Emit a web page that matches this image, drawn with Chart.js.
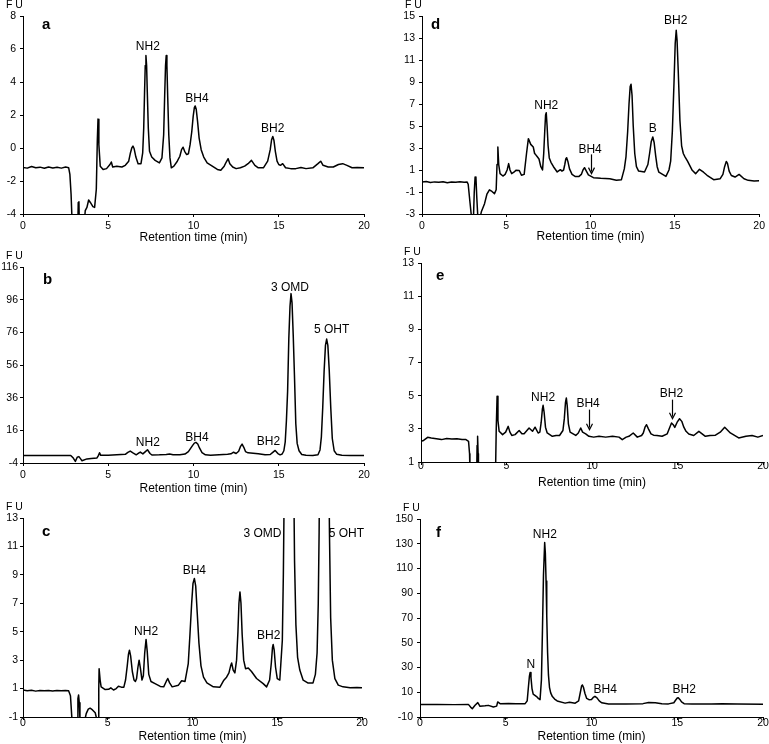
<!DOCTYPE html>
<html lang="en">
<head>
<meta charset="UTF-8">
<title>Chromatograms a-f</title>
<script src="https://cdn.jsdelivr.net/npm/chart.js"></script>
<style>
  body { margin: 0; background: #fff; }
  #wrap { position: relative; width: 769px; height: 744px; overflow: hidden; }
  canvas { position: absolute; }
</style>
</head>
<body>
<div id="wrap">
  <canvas id="chartA" width="384" height="245" style="left:0;top:0"></canvas>
  <canvas id="chartB" width="384" height="251" style="left:0;top:245px"></canvas>
  <canvas id="chartC" width="384" height="248" style="left:0;top:496px"></canvas>
  <canvas id="chartD" width="385" height="244" style="left:384px;top:0"></canvas>
  <canvas id="chartE" width="385" height="246" style="left:384px;top:244px"></canvas>
  <canvas id="chartF" width="385" height="254" style="left:384px;top:490px"></canvas>
</div>

<script>
const FONT = "'Liberation Sans', Arial, sans-serif";

// x axis is the same everywhere
const xTicks = [0, 5, 10, 15, 20];

// ---- panel a ----
const aTime = [0, 0.25, 0.5, 0.75, 1.0, 1.25, 1.5, 1.75, 2.0, 2.25,
  2.5, 2.68, 2.75, 2.82, 2.88, 3.22, 3.24, 3.28, 3.3, 3.6,
  3.65, 3.75, 3.85, 3.95, 4.1, 4.2, 4.3, 4.36, 4.4, 4.45,
  4.53, 4.7, 4.9, 5.1, 5.18, 5.26, 5.5, 5.8, 6.0, 6.2,
  6.3, 6.38, 6.45, 6.52, 6.62, 6.75, 6.92, 7.02, 7.08, 7.13,
  7.17, 7.21, 7.25, 7.29, 7.35, 7.42, 7.55, 7.75, 8.0, 8.15,
  8.25, 8.31, 8.36, 8.4, 8.44, 8.49, 8.55, 8.62, 8.7, 8.85,
  9.05, 9.2, 9.3, 9.39, 9.48, 9.6, 9.7, 9.8, 9.9, 9.98,
  10.05, 10.1, 10.16, 10.24, 10.33, 10.45, 10.6, 10.8, 11.1, 11.4,
  11.6, 11.8, 11.92, 12.03, 12.13, 12.3, 12.5, 12.75, 13.0, 13.2,
  13.4, 13.6, 13.8, 14.1, 14.35, 14.5, 14.58, 14.65, 14.72, 14.8,
  14.9, 15.0, 15.1, 15.23, 15.4, 15.7, 16.0, 16.3, 16.6, 17.0,
  17.3, 17.46, 17.6, 17.9, 18.2, 18.5, 18.75, 19.0, 19.3, 19.6,
  20];
const aFU = [-1.18, -1.22, -1.12, -1.2, -1.16, -1.23, -1.15, -1.21, -1.17, -1.22,
  -1.15, -1.2, -1.6, -2.8, -4.5, -4.5, -3.3, -3.25, -4.5, -4.5,
  -3.8, -3.6, -3.15, -3.3, -3.55, -3.6, -2.5, 0.5, 1.75, 0.2,
  -1.1, -1.3, -1.25, -1.0, -0.85, -1.15, -1.1, -1.15, -1.05, -0.8,
  -0.3, 0.0, 0.12, -0.05, -0.55, -0.95, -0.95, -0.3, 1.2, 3.4,
  5.0, 5.6, 5.0, 3.4, 1.2, -0.2, -0.55, -0.75, -0.9, -0.6,
  0.8, 3.2, 5.0, 5.6, 5.0, 3.0, 0.8, -0.6, -1.2, -1.1,
  -0.8, -0.5, -0.1, 0.05, -0.2, -0.4, -0.35, 0.2, 1.0, 1.9,
  2.45, 2.55, 2.35, 1.6, 0.6, -0.1, -0.55, -0.9, -1.1, -1.3,
  -1.35, -1.1, -0.85, -0.65, -0.95, -1.15, -1.25, -1.2, -1.1, -0.95,
  -0.75, -1.05, -1.2, -1.2, -0.8, -0.1, 0.5, 0.7, 0.45, -0.2,
  -0.8, -1.0, -1.05, -0.95, -1.2, -1.25, -1.25, -1.18, -1.25, -1.2,
  -0.95, -0.8, -1.05, -1.15, -1.15, -1.0, -0.95, -1.05, -1.2, -1.18,
  -1.2];
const aTicks = [-4, -2, 0, 2, 4, 6, 8];
const aNames = ['NH2', 'BH4', 'BH2'];
const aNameX = [7.32, 10.2, 14.65];
const aNameY = [6.12, 2.99, 1.17];

// ---- panel b ----
const bTime = [0, 0.5, 1, 1.5, 2, 2.5, 2.8, 2.95, 3.07, 3.18,
  3.28, 3.38, 3.46, 3.75, 4.0, 4.34, 4.42, 4.49, 4.56, 5.0,
  5.5, 6.0, 6.15, 6.29, 6.45, 6.64, 6.78, 6.88, 7.03, 7.18,
  7.3, 7.45, 7.56, 8.0, 8.4, 8.6, 8.8, 9.2, 9.5, 9.7,
  9.82, 9.95, 10.05, 10.14, 10.25, 10.35, 10.5, 10.7, 11.0, 11.5,
  12.0, 12.2, 12.35, 12.5, 12.65, 12.75, 12.85, 12.95, 13.05, 13.2,
  13.5, 13.8, 14.2, 14.5, 14.65, 14.79, 14.95, 15.08, 15.2, 15.3,
  15.38, 15.45, 15.52, 15.59, 15.66, 15.72, 15.78, 15.85, 15.92, 16.0,
  16.08, 16.19, 16.35, 16.6, 17.0, 17.3, 17.42, 17.5, 17.58, 17.66,
  17.74, 17.81, 17.88, 17.96, 18.05, 18.14, 18.25, 18.4, 18.7, 19.2,
  20];
const bFU = [0.6, 0.6, 0.6, 0.6, 0.6, 0.6, 0.6, -1, -3, -0.5,
  -0.1, -1.5, -2.6, -1.5, -1.2, -0.9, 0.5, 2.3, 0.7, 0.8,
  1.0, 1.3, 2.5, 3.3, 2.2, 1.0, 2.0, 2.7, 1.6, 3.0,
  4.1, 1.8, 0.9, 1.0, 1.2, 1.5, 1.1, 1.0, 1.5, 3.0,
  4.8, 6.8, 8.2, 8.6, 7.6, 5.2, 2.4, 1.0, 0.8, 1.0,
  1.3, 1.6, 2.6, 1.8, 3.2, 6.0, 7.6, 5.6, 3.0, 2.2,
  2.0, 1.7, 1.0, 1.2, 2.5, 3.7, 1.8, 1.0, 1.5, 3.5,
  9, 22, 40, 72, 92, 99.7, 94, 74, 50, 20,
  8, 3.5, 1.2, 0.7, 0.6, 1.0, 4, 12, 30, 52,
  68, 71.9, 68, 53, 30, 11, 3.5, 1.3, 0.7, 0.6,
  0.6];
const bTicks = [-4, 16, 36, 56, 76, 96, 116];
const bNames = ['NH2', 'BH4', 'BH2', '3 OMD', '5 OHT'];
const bNameX = [7.32, 10.2, 14.4, 15.66, 18.1];
const bNameY = [8.2, 11.7, 8.8, 103.4, 77.4];

// ---- panel c ----
const cTime = [0, 0.25, 0.5, 0.75, 1.0, 1.25, 1.5, 1.75, 2.0, 2.25,
  2.5, 2.69, 2.8, 2.89, 3.2, 3.24, 3.28, 3.32, 3.36, 3.65,
  3.73, 3.85, 3.96, 4.1, 4.26, 4.36, 4.44, 4.47, 4.49, 4.55,
  4.61, 4.85, 5.05, 5.18, 5.34, 5.5, 5.63, 5.8, 5.95, 6.05,
  6.15, 6.22, 6.28, 6.35, 6.45, 6.55, 6.63, 6.7, 6.78, 6.85,
  6.93, 7.02, 7.1, 7.18, 7.26, 7.33, 7.42, 7.55, 7.79, 8.1,
  8.3, 8.45, 8.54, 8.65, 8.8, 9.17, 9.36, 9.56, 9.75, 9.85,
  9.95, 10.03, 10.11, 10.19, 10.28, 10.38, 10.5, 10.65, 10.85, 11.23,
  11.62, 11.85, 12.01, 12.15, 12.25, 12.31, 12.4, 12.5, 12.6, 12.68,
  12.74, 12.8, 12.86, 12.93, 13.02, 13.13, 13.29, 13.48, 13.78, 14.17,
  14.37, 14.55, 14.65, 14.72, 14.76, 14.82, 14.9, 15.0, 15.15, 15.3,
  15.36, 15.42, 15.5, 15.6, 15.7, 15.8, 15.9, 15.97, 16.02, 16.1,
  16.2, 16.33, 16.53, 16.8, 17.11, 17.25, 17.35, 17.42, 17.47, 17.55,
  17.65, 17.8, 17.95, 18.02, 18.08, 18.15, 18.25, 18.4, 18.6, 18.88,
  19.3, 19.7, 20];
const cFU = [0.9, 0.85, 0.88, 0.82, 0.87, 0.84, 0.87, 0.83, 0.86, 0.84,
  0.87, 0.85, 0.5, -1.2, -1.2, 0.3, 0.55, 0.0, -1.2, -1.2,
  -0.76, -0.45, -0.38, -0.5, -0.7, -1.2, -1.2, 1.0, 2.4, 1.6,
  1.12, 0.93, 0.95, 1.05, 0.9, 1.0, 1.16, 1.1, 1.1, 1.6,
  2.6, 3.4, 3.7, 3.3, 2.2, 1.6, 1.5, 1.7, 2.5, 3.0,
  2.4, 1.6, 1.9, 3.5, 4.46, 3.6, 2.0, 1.5, 1.35, 1.15,
  1.12, 1.5, 1.71, 1.4, 1.12, 1.24, 1.55, 1.5, 2.76, 4.8,
  7.0, 8.4, 8.75, 8.2, 6.3, 4.2, 2.6, 1.8, 1.4, 1.12,
  1.1, 1.59, 1.8, 2.1, 2.6, 2.8, 2.3, 2.1, 3.0, 5.0,
  7.0, 7.8, 7.0, 4.8, 3.0, 2.4, 2.45, 2.2, 1.71, 1.35,
  1.12, 1.6, 2.8, 3.9, 4.1, 3.7, 2.5, 1.7, 1.6, 4.4,
  9, 16, 40, 80, 100, 82, 40, 16, 10, 5.5,
  3.2, 2.3, 1.59, 1.4, 1.4, 2.0, 3.5, 7, 12, 25,
  55, 72, 50, 20, 12, 6, 3, 1.7, 1.24, 1.12,
  1.05, 1.08, 1.05];
const cTicks = [-1, 1, 3, 5, 7, 9, 11, 13];
const cNames = ['NH2', 'BH4', 'BH2', '3 OMD', '5 OHT'];
const cNameX = [7.26, 10.11, 14.5, 14.13, 19.08];
const cNameY = [5.0, 9.3, 4.72, 11.87, 11.87];

// ---- panel d ----
const dTime = [0, 0.25, 0.5, 0.75, 1.0, 1.25, 1.5, 1.75, 2.0, 2.25,
  2.5, 2.68, 2.74, 2.85, 2.95, 3.05, 3.1, 3.15, 3.2, 3.25,
  3.32, 3.42, 3.52, 3.71, 3.85, 4.0, 4.15, 4.3, 4.4, 4.45,
  4.5, 4.55, 4.63, 4.8, 4.93, 5.05, 5.14, 5.22, 5.32, 5.45,
  5.57, 5.77, 5.9, 6.06, 6.2, 6.31, 6.45, 6.6, 6.68, 6.74,
  6.84, 6.94, 7.05, 7.15, 7.22, 7.28, 7.33, 7.37, 7.42, 7.48,
  7.55, 7.65, 7.8, 8.02, 8.21, 8.3, 8.4, 8.47, 8.53, 8.58,
  8.65, 8.75, 8.9, 9.1, 9.3, 9.45, 9.55, 9.64, 9.75, 9.87,
  10.17, 10.6, 11.14, 11.53, 11.83, 12.0, 12.1, 12.2, 12.28, 12.35,
  12.4, 12.46, 12.53, 12.62, 12.72, 12.85, 13.2, 13.4, 13.5, 13.6,
  13.69, 13.77, 13.86, 13.95, 14.05, 14.47, 14.65, 14.75, 14.85, 14.95,
  15.02, 15.08, 15.13, 15.2, 15.3, 15.4, 15.5, 15.6, 15.75, 16.03,
  16.23, 16.46, 16.7, 16.91, 17.3, 17.69, 17.85, 17.95, 18.05, 18.12,
  18.22, 18.35, 18.57, 18.81, 19.1, 19.35, 19.7, 20];
const dFU = [-0.1, -0.05, -0.14, -0.08, -0.12, -0.06, -0.15, -0.1, -0.12, -0.07,
  -0.12, -0.1, -0.3, -2.0, -3.5, -3.5, -1.0, 0.36, 0.3, -1.5,
  -3.5, -3.5, -2.8, -2.06, -1.2, -0.8, -0.95, -1.15, -0.8, 1.5,
  3.09, 1.5, 0.67, 0.45, 0.6, 1.0, 1.58, 1.0, 0.67, 0.8,
  0.97, 0.95, 0.52, 0.6, 2.5, 3.85, 3.33, 3.09, 2.5, 2.4,
  2.2, 2.0, 1.3, 1.0, 2.5, 4.5, 6.0, 6.2, 5.0, 3.2,
  2.1, 1.7, 1.3, 0.82, 1.03, 0.9, 1.0, 1.5, 2.0, 2.12,
  1.8, 1.1, 0.6, 0.4, 0.4, 0.6, 1.0, 1.21, 0.9, 0.55,
  0.3, 0.25, 0.21, 0.06, 0.12, 1.1, 2.2, 4.5, 7.0, 8.6,
  8.8, 7.8, 5.0, 2.5, 1.3, 0.9, 0.82, 1.5, 2.5, 3.6,
  4.0, 3.5, 2.3, 1.3, 0.8, 0.42, 1.0, 1.8, 4.5, 9.0,
  12.5, 13.7, 12.8, 10.0, 5.5, 3.2, 2.5, 2.2, 1.8, 0.97,
  0.67, 1.06, 0.8, 0.52, 0.12, 0.21, 0.6, 1.3, 1.78, 1.6,
  0.9, 0.5, 0.36, 0.6, 0.2, 0.06, 0.0, 0.02];
const dTicks = [-3, -1, 1, 3, 5, 7, 9, 11, 13, 15];
const dNames = ['NH2', 'BH4', 'B', 'BH2'];
const dNameX = [7.37, 9.97, 13.69, 15.05];
const dNameY = [6.88, 2.88, 4.76, 14.55];
const dArrowX = [10.0];
const dArrowFrom = [2.42];
const dArrowTo = [0.67];

// ---- panel e ----
const eTime = [0, 0.15, 0.39, 0.6, 0.9, 1.2, 1.5, 1.8, 2.1, 2.4,
  2.63, 2.78, 2.84, 2.86, 3.26, 3.28, 3.31, 3.34, 3.36, 4.36,
  4.4, 4.45, 4.5, 4.57, 4.77, 4.95, 5.1, 5.2, 5.31, 5.5,
  5.74, 5.9, 6.03, 6.32, 6.52, 6.67, 6.85, 6.95, 7.03, 7.1,
  7.14, 7.2, 7.28, 7.38, 7.68, 7.9, 8.1, 8.3, 8.38, 8.45,
  8.5, 8.55, 8.62, 8.72, 9.05, 9.2, 9.34, 9.45, 9.63, 9.82,
  10.1, 10.41, 10.8, 11.2, 11.58, 11.77, 12.0, 12.16, 12.41, 12.65,
  12.9, 13.0, 13.1, 13.19, 13.3, 13.45, 13.6, 13.8, 14.1, 14.4,
  14.55, 14.65, 14.75, 14.84, 14.98, 15.12, 15.25, 15.37, 15.5, 15.66,
  15.95, 16.25, 16.63, 16.9, 17.22, 17.5, 17.76, 18.09, 18.58, 19.0,
  19.36, 19.7, 20];
const eFU = [2.25, 2.3, 2.49, 2.45, 2.4, 2.35, 2.42, 2.38, 2.4, 2.35,
  2.35, 2.25, 1.5, 0.5, 0.5, 2.0, 2.55, 1.5, 0.5, 0.5,
  3.0, 4.96, 3.5, 2.85, 2.65, 2.8, 3.15, 2.8, 2.6, 2.65,
  2.9, 2.7, 2.7, 3.05, 2.85, 3.1, 2.75, 2.8, 3.4, 4.2,
  4.42, 4.0, 3.1, 2.75, 2.55, 2.6, 2.6, 2.9, 3.6, 4.6,
  4.86, 4.4, 3.3, 2.8, 2.6, 2.75, 3.05, 2.8, 2.7, 2.55,
  2.5, 2.55, 2.5, 2.55, 2.5, 2.35, 2.5, 2.55, 2.75, 2.5,
  2.6, 2.75, 3.1, 3.25, 3.0, 2.7, 2.62, 2.6, 2.55, 2.7,
  3.1, 3.35, 3.25, 3.09, 3.4, 3.61, 3.45, 3.1, 2.85, 2.69,
  2.6, 2.85, 2.55, 2.6, 2.62, 2.8, 3.09, 2.75, 2.45, 2.55,
  2.6, 2.5, 2.6];
const eTicks = [1, 3, 5, 7, 9, 11, 13];
const eNames = ['NH2', 'BH4', 'BH2'];
const eNameX = [7.14, 9.77, 14.65];
const eNameY = [4.86, 4.5, 5.12];
const eArrowX = [9.82, 14.65];
const eArrowFrom = [4.16, 4.76];
const eArrowTo = [2.95, 3.61];

// ---- panel f ----
const fTime = [0, 1, 2, 2.82, 2.95, 3.05, 3.21, 3.37, 3.5, 3.79,
  3.99, 4.28, 4.47, 4.53, 4.67, 5.16, 5.6, 6.13, 6.25, 6.32,
  6.38, 6.42, 6.47, 6.53, 6.6, 6.7, 6.8, 6.9, 7.0, 7.08,
  7.14, 7.2, 7.27, 7.31, 7.35, 7.39, 7.44, 7.49, 7.55, 7.62,
  7.72, 7.85, 8.0, 8.46, 8.72, 9.05, 9.25, 9.35, 9.42, 9.47,
  9.53, 9.62, 9.72, 9.85, 10.0, 10.1, 10.2, 10.32, 10.45, 10.6,
  10.99, 12.0, 13.0, 13.33, 13.72, 14.1, 14.49, 14.8, 14.9, 15.0,
  15.06, 15.15, 15.25, 15.4, 15.86, 17.0, 17.61, 18.5, 20];
const fFU = [0, 0.1, 0, 0.2, -2, -3.3, -0.5, 1.6, -1.4, -1.0,
  -0.6, -1.9, -1.2, 2.2, 0.8, 1.0, 0.8, 0.8, 3, 14,
  23, 25.9, 22, 13, 8.5, 7.5, 6.5, 5, 4, 20,
  60, 105, 131, 122, 100, 72, 42, 24, 14, 9.5,
  6.5, 4.5, 3, 1.2, 2.0, 1.2, 3, 10, 15, 15.9,
  14, 9, 5, 4, 4.2, 5.8, 6.7, 5.5, 3, 1.5,
  0.5, 0.5, 0.8, 1.8, 1.6, 0.8, 0.6, 1.5, 3.5, 5.3,
  5.6, 4.2, 2.2, 0.8, 0.5, 0.5, 0.8, 0.6, 0.4];
const fTicks = [-10, 10, 30, 50, 70, 90, 110, 130, 150];
const fNames = ['N', 'NH2', 'BH4', 'BH2'];
const fNameX = [6.46, 7.28, 10.8, 15.41];
const fNameY = [32.6, 137.6, 12.4, 12.4];

// labels, panel letter, arrows
const decor = {
  id: 'decor',
  afterDraw(chart, args, o) {
    const { ctx, chartArea: area, scales: { x, y } } = chart;
    ctx.save();
    ctx.fillStyle = '#000';
    ctx.strokeStyle = '#000';
    ctx.textBaseline = 'middle';
    ctx.textAlign = 'left';
    ctx.font = '10.5px ' + FONT;
    ctx.fillText('F U', area.left - 17, area.top - 11);
    ctx.font = 'bold 15px ' + FONT;
    ctx.fillText(o.letter, area.left + o.dx, area.top + o.dy);
    ctx.font = '12px ' + FONT;
    ctx.textAlign = 'center';
    o.names.forEach((n, i) => {
      ctx.fillText(n, x.getPixelForValue(o.nameX[i]), y.getPixelForValue(o.nameY[i]));
    });
    (o.arrowX || []).forEach((ax, i) => {
      const px = Math.round(x.getPixelForValue(ax)) + 0.5;
      const y1 = y.getPixelForValue(o.arrowFrom[i]);
      const y2 = y.getPixelForValue(o.arrowTo[i]);
      ctx.lineWidth = 1.2;
      ctx.beginPath();
      ctx.moveTo(px, y1);
      ctx.lineTo(px, y2 - 2);
      ctx.stroke();
      ctx.beginPath();
      ctx.moveTo(px - 3, y2 - 6);
      ctx.lineTo(px, y2);
      ctx.lineTo(px + 3, y2 - 6);
      ctx.stroke();
    });
    ctx.restore();
  }
};

function makeChart(id, time, fu, yTicks, box, extra) {
  if (time.length !== fu.length) console.error(id + ': length mismatch', time.length, fu.length);
  const canvas = document.getElementById(id);
  const W = canvas.width, H = canvas.height;
  const pts = time.map((t, i) => ({ x: t, y: fu[i] }));
  return new Chart(canvas, {
    type: 'line',
    data: {
      datasets: [{
        data: pts,
        borderColor: '#000',
        borderWidth: 1.5,
        borderJoinStyle: 'round',
        pointRadius: 0,
        tension: 0,
        fill: false
      }]
    },
    plugins: [decor],
    options: {
      responsive: false,
      animation: false,
      events: [],
      layout: { padding: { left: 0, top: box.t, right: W - box.r, bottom: 0 } },
      plugins: {
        legend: { display: false },
        tooltip: { enabled: false },
        decor: extra
      },
      scales: {
        x: {
          type: 'linear',
          min: 0,
          max: 20,
          afterBuildTicks: s => { s.ticks = xTicks.map(v => ({ value: v })); },
          afterFit: s => { s.height = H - box.b; },
          grid: { drawOnChartArea: false, drawTicks: true, tickLength: 3, color: '#000' },
          border: { color: '#000', width: 1 },
          ticks: { color: '#000', font: { family: FONT, size: 10.5, lineHeight: 1 }, padding: box.pad, maxRotation: 0 },
          title: { display: true, text: 'Retention time (min)', color: '#000', font: { family: FONT, size: 12, lineHeight: 1.2 }, padding: 0 }
        },
        y: {
          type: 'linear',
          min: yTicks[0],
          max: yTicks[yTicks.length - 1],
          afterBuildTicks: s => { s.ticks = yTicks.map(v => ({ value: v })); },
          afterFit: s => { s.width = box.l; },
          grid: { drawOnChartArea: false, drawTicks: true, tickLength: 3, color: '#000' },
          border: { color: '#000', width: 1 },
          ticks: { color: '#000', font: { family: FONT, size: 10.5, lineHeight: 1 }, padding: box.ypad, callback: v => String(v) }
        }
      }
    }
  });
}

// boxes are relative to each canvas: l = axis x, t = plot top, r = plot right, b = plot bottom
makeChart('chartA', aTime, aFU, aTicks, { l: 23, t: 16, r: 364, b: 214, pad: 4, ypad: 4 },
  { letter: 'a', dx: 19, dy: 9, names: aNames, nameX: aNameX, nameY: aNameY });
makeChart('chartB', bTime, bFU, bTicks, { l: 23, t: 22, r: 364, b: 218, pad: 3.5, ypad: 2 },
  { letter: 'b', dx: 20, dy: 13, names: bNames, nameX: bNameX, nameY: bNameY });
makeChart('chartC', cTime, cFU, cTicks, { l: 23, t: 22, r: 362, b: 221, pad: -2.6, ypad: 2 },
  { letter: 'c', dx: 19, dy: 14, names: cNames, nameX: cNameX, nameY: cNameY });
makeChart('chartD', dTime, dFU, dTicks, { l: 38, t: 16, r: 379, b: 214, pad: 4, ypad: 4 },
  { letter: 'd', dx: 9, dy: 9, names: dNames, nameX: dNameX, nameY: dNameY, arrowX: dArrowX, arrowFrom: dArrowFrom, arrowTo: dArrowTo });
makeChart('chartE', eTime, eFU, eTicks, { l: 37, t: 19, r: 379, b: 218, pad: -4, ypad: 4 },
  { letter: 'e', dx: 15, dy: 13, names: eNames, nameX: eNameX, nameY: eNameY, arrowX: eArrowX, arrowFrom: eArrowFrom, arrowTo: eArrowTo });
makeChart('chartF', fTime, fFU, fTicks, { l: 36, t: 29, r: 379, b: 227, pad: -2.6, ypad: 4 },
  { letter: 'f', dx: 16, dy: 14, names: fNames, nameX: fNameX, nameY: fNameY });
</script>
</body>
</html>
